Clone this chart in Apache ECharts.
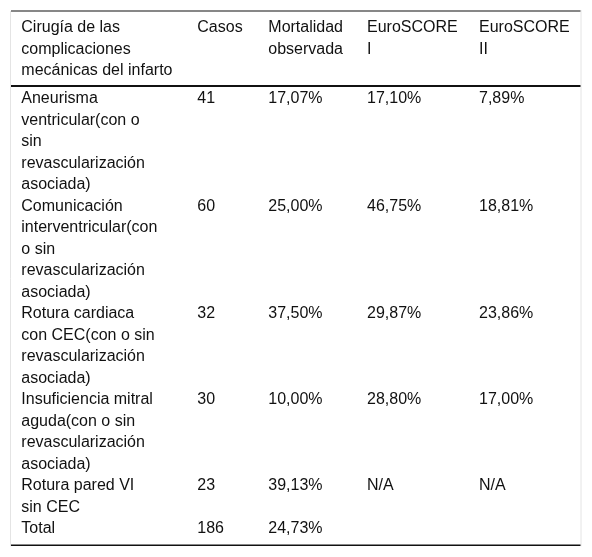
<!DOCTYPE html>
<html>
<head>
<meta charset="utf-8">
<script src="https://cdn.jsdelivr.net/npm/echarts@6/dist/echarts.min.js"></script>
<style>
html,body{margin:0;padding:0;background:#fff;}
#chart{width:592px;height:557px;}
</style>
</head>
<body>
<div id="chart"></div>
<script>
// ---- data ----
const headers = ['Cirugía de las\ncomplicaciones\nmecánicas del infarto', 'Casos', 'Mortalidad\nobservada', 'EuroSCORE\nI', 'EuroSCORE\nII'];
const procedures = [
  'Aneurisma\nventricular(con o\nsin\nrevascularización\nasociada)',
  'Comunicación\ninterventricular(con\no sin\nrevascularización\nasociada)',
  'Rotura cardiaca\ncon CEC(con o sin\nrevascularización\nasociada)',
  'Insuficiencia mitral\naguda(con o sin\nrevascularización\nasociada)',
  'Rotura pared VI\nsin CEC',
  'Total'
];
const casos = [41, 60, 32, 30, 23, 186];
const mortalidad = ['17,07%', '25,00%', '37,50%', '10,00%', '39,13%', '24,73%'];
const euroscore1 = ['17,10%', '46,75%', '29,87%', '28,80%', 'N/A', ''];
const euroscore2 = ['7,89%', '18,81%', '23,86%', '17,00%', 'N/A', ''];

// ---- layout (pixel space of the hidden axes) ----
const colX = [21.3, 197.3, 268.3, 367, 479];
const headLineH = 21.3;
const lineH = 21.5;
const headerFirstCenter = 27.8;
const bodyFirstCenter = 98.6;
const tableLeft = 11, tableRight = 580.5;
const topRule = 11, headRule = 86, bottomRule = 545.3;

// build cells: [x, yTop, text, lineHeight]
const cells = [];
headers.forEach((h, c) => {
  cells.push([colX[c], headerFirstCenter - headLineH / 2, h, headLineH]);
});
let yTop = bodyFirstCenter - lineH / 2;
procedures.forEach((p, r) => {
  const row = [p, String(casos[r]), mortalidad[r], euroscore1[r], euroscore2[r]];
  const n = p.split('\n').length;
  row.forEach((t, c) => { if (t !== '') cells.push([colX[c], yTop, t, lineH]); });
  yTop += n * lineH;
});

const rules = [
  [tableLeft, tableRight, topRule, 1.2, '#111'],
  [tableLeft, tableRight, headRule, 2.2, '#111'],
  [tableLeft, tableRight, bottomRule, 1.6, '#111']
];
const edges = [
  [10.5, topRule, bottomRule + 1, '#e4e4e4'],
  [581, topRule - 1, bottomRule + 1, '#e4e4e4']
];

const chart = echarts.init(document.getElementById('chart'), null, {renderer: 'canvas'});
chart.setOption({
  backgroundColor: '#fff',
  animation: false,
  grid: {left: 0, right: 0, top: 0, bottom: 0},
  xAxis: {type: 'value', min: 0, max: 592, show: false},
  yAxis: {type: 'value', min: 0, max: 557, inverse: true, show: false},
  series: [
    {
      type: 'custom',
      data: edges,
      silent: true,
      renderItem: function (params, api) {
        const d = edges[params.dataIndex];
        const p1 = api.coord([d[0], d[1]]);
        const p2 = api.coord([d[0], d[2]]);
        return {type: 'line', shape: {x1: p1[0], y1: p1[1], x2: p2[0], y2: p2[1]}, style: {stroke: d[3], lineWidth: 1}};
      }
    },
    {
      type: 'custom',
      data: rules,
      silent: true,
      renderItem: function (params, api) {
        const d = rules[params.dataIndex];
        const p1 = api.coord([d[0], d[2]]);
        const p2 = api.coord([d[1], d[2]]);
        return {type: 'line', shape: {x1: p1[0], y1: p1[1], x2: p2[0], y2: p2[1]}, style: {stroke: d[4], lineWidth: d[3]}};
      }
    },
    {
      type: 'custom',
      data: cells.map(c => [c[0], c[1]]),
      silent: true,
      renderItem: function (params, api) {
        const cell = cells[params.dataIndex];
        const p = api.coord([api.value(0), api.value(1)]);
        return {
          type: 'text',
          x: p[0], y: p[1],
          style: {
            text: cell[2],
            fill: '#111',
            fontFamily: '"Liberation Sans", Arial, Helvetica, sans-serif',
            fontSize: 16,
            lineHeight: cell[3],
            align: 'left',
            verticalAlign: 'top'
          }
        };
      }
    }
  ]
});
</script>
</body>
</html>
